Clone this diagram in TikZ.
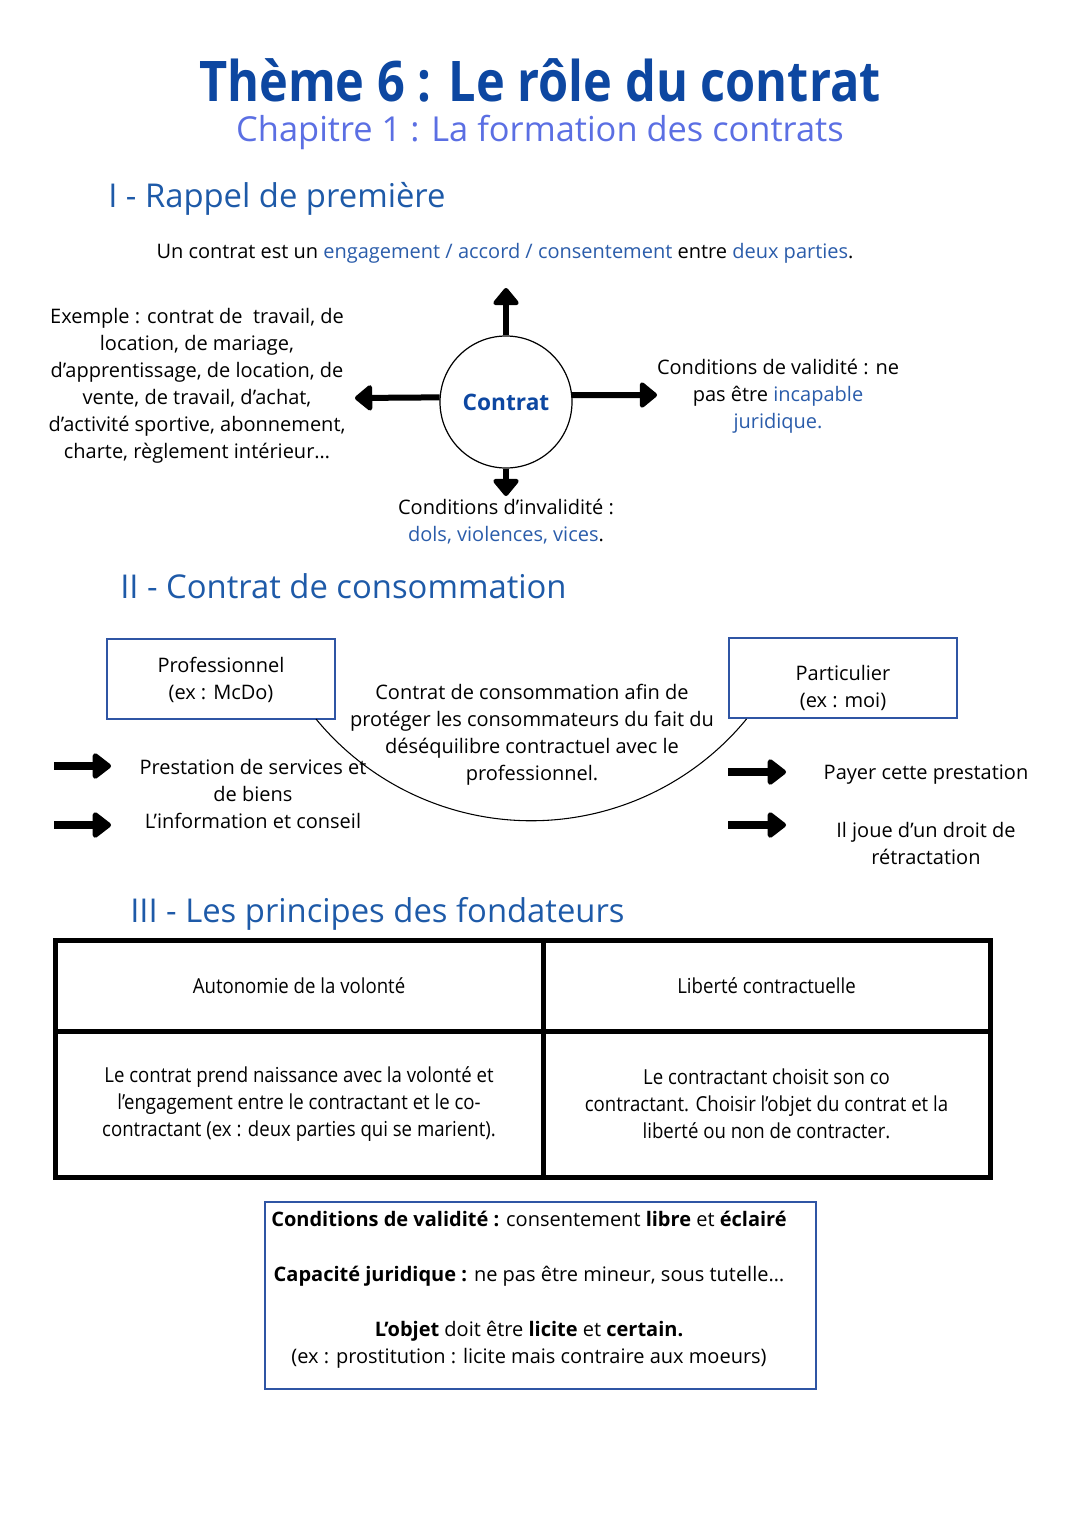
\documentclass[tikz,border=0pt]{standalone}
\usepackage{fontspec}
\setmainfont{Open Sans}
\newfontfamily\tabfont[FakeStretch=0.9]{Open Sans}
\newfontfamily\titlefont[FakeStretch=0.87]{Open Sans}
\usetikzlibrary{arrows.meta}
\definecolor{titleblue}{HTML}{0D47A1}
\definecolor{chapblue}{HTML}{5B6FE3}
\definecolor{headblue}{HTML}{1E5AA8}
\definecolor{wordblue}{HTML}{2A5CAA}
\definecolor{boxblue}{HTML}{2F55A4}
\newcommand{\bw}[1]{\textcolor{wordblue}{#1}}
\tikzset{
  txt/.style={inner sep=0pt, align=center, font=\fontsize{15}{20.25}\selectfont},
  head/.style={inner sep=0pt, anchor=base west, text=headblue, font=\fontsize{24.6}{28}\selectfont},
  bigarrow/.style={line width=4.5pt, -{Triangle[length=14pt,width=22pt,round]}},
  sidearrow/.style={line width=6.5pt, -{Triangle[length=15pt,width=22pt,round]}},
  pbox/.style={draw=boxblue, line width=1.9pt, minimum width=171pt, minimum height=60pt, inner sep=0pt},
  cell/.style={draw=black, line width=3.75pt, inner sep=0pt, align=center, font=\tabfont\fontsize{15.5}{20.25}\selectfont},
}
\begin{document}
\begin{tikzpicture}[x=0.75pt,y=-0.75pt]
\useasboundingbox (0,0) rectangle (1080,1527);
% Titles
\node[inner sep=0pt, anchor=base, text=titleblue, font=\titlefont\fontsize{42}{48}\selectfont\bfseries] (title) at (540,101) {Thème 6 : Le rôle du contrat};
\node[inner sep=0pt, anchor=base, text=chapblue, font=\fontsize{25.8}{30}\selectfont] (chap) at (540,141) {Chapitre 1 : La formation des contrats};
% Section I
\node[head] (h1) at (108,207) {I - Rappel de première};
\node[txt] (def) at (505,253) {Un contrat est un \bw{engagement / accord / consentement} entre \bw{deux parties}.};
\node[circle, draw, line width=0.9pt, minimum size=99pt, inner sep=0pt, text=titleblue, font=\fontsize{17}{20}\selectfont\bfseries] (c) at (506,402) {Contrat};
\node[txt] (ex) at (197,386) {Exemple : contrat de~ travail, de\\location, de mariage,\\d’apprentissage, de location, de\\vente, de travail, d’achat,\\d’activité sportive, abonnement,\\charte, règlement intérieur…};
\node[txt] (val) at (778,396) {Conditions de validité : ne\\pas être \bw{incapable}\\\bw{juridique.}};
\node[txt] (inv) at (506,522) {Conditions d’invalidité :\\\bw{dols, violences, vices}.};
\coordinate (up) at (506,288);
\coordinate (down) at (506,496);
\coordinate (left) at (355,398);
\coordinate (right) at (657,395);
\draw[bigarrow] (c.north) -- (up);
\draw[bigarrow] (c.south) -- (down);
\draw[bigarrow] (c.176) -- (left);
\draw[bigarrow] (c.6) -- (right);
% Section II
\node[head] (h2) at (120,598) {II - Contrat de consommation};
\node[pbox] (pro) at (221,679) {};
\node[txt] (protxt) at (221,680) {Professionnel\\(ex : McDo)};
\node[pbox] (par) at (843,678) {};
\node[txt] (partxt) at (843,688) {Particulier\\(ex : moi)};
\node[txt] (cc) at (532,735) {Contrat de consommation afin de\\protéger les consommateurs du fait du\\déséquilibre contractuel avec le\\professionnel.};
\coordinate (a1) at (316,719);
\draw[line width=0.8pt] (a1) arc[start angle=219.4, end angle=320.6, radius=208.95pt];
\coordinate (la1s) at (54,766); \coordinate (la1e) at (111,766);
\coordinate (la2s) at (54,825); \coordinate (la2e) at (111,825);
\coordinate (ra1s) at (728,772); \coordinate (ra1e) at (786,772);
\coordinate (ra2s) at (728,825); \coordinate (ra2e) at (786,825);
\draw[sidearrow] (la1s) -- (la1e);
\draw[sidearrow] (la2s) -- (la2e);
\draw[sidearrow] (ra1s) -- (ra1e);
\draw[sidearrow] (ra2s) -- (ra2e);
\node[txt] (prest) at (253,780) {Prestation de services et\\de biens};
\node[txt] (info) at (253,821) {L’information et conseil};
\node[txt] (payer) at (926,775) {Payer cette prestation};
\node[txt] (retr) at (926,843) {Il joue d’un droit de\\rétractation};
% Section III
\node[head] (h3) at (130,922) {III - Les principes des fondateurs};
\node[cell, minimum width=366pt, minimum height=68.25pt] (t11) at (299,985.5) {Autonomie de la volonté};
\node[cell, minimum width=335.25pt, minimum height=68.25pt] (t12) at (766.5,985.5) {Liberté contractuelle};
\node[cell, minimum width=366pt, minimum height=109.5pt] (t21) at (299,1104) {Le contrat prend naissance avec la volonté et\\l’engagement entre le contractant et le co-\\contractant (ex : deux parties qui se marient).};
\node[cell, minimum width=335.25pt, minimum height=109.5pt] (t22) at (766.5,1104) {Le contractant choisit son co\\contractant. Choisir l’objet du contrat et la\\liberté ou non de contracter.};
% Bottom box
\node[draw=boxblue, line width=1.9pt, minimum width=413.25pt, minimum height=140.25pt, inner sep=0pt] (cv) at (540.5,1295.5) {};
\node[txt, font=\fontsize{15}{20.6}\selectfont] (cvtxt) at (529,1290) {\textbf{Conditions de validité :} consentement \textbf{libre} et \textbf{éclairé}\\[20.6pt]\textbf{Capacité juridique :} ne pas être mineur, sous tutelle…\\[20.6pt]\textbf{L’objet} doit être \textbf{licite} et \textbf{certain.}\\(ex : prostitution : licite mais contraire aux moeurs)};
\end{tikzpicture}
\end{document}
